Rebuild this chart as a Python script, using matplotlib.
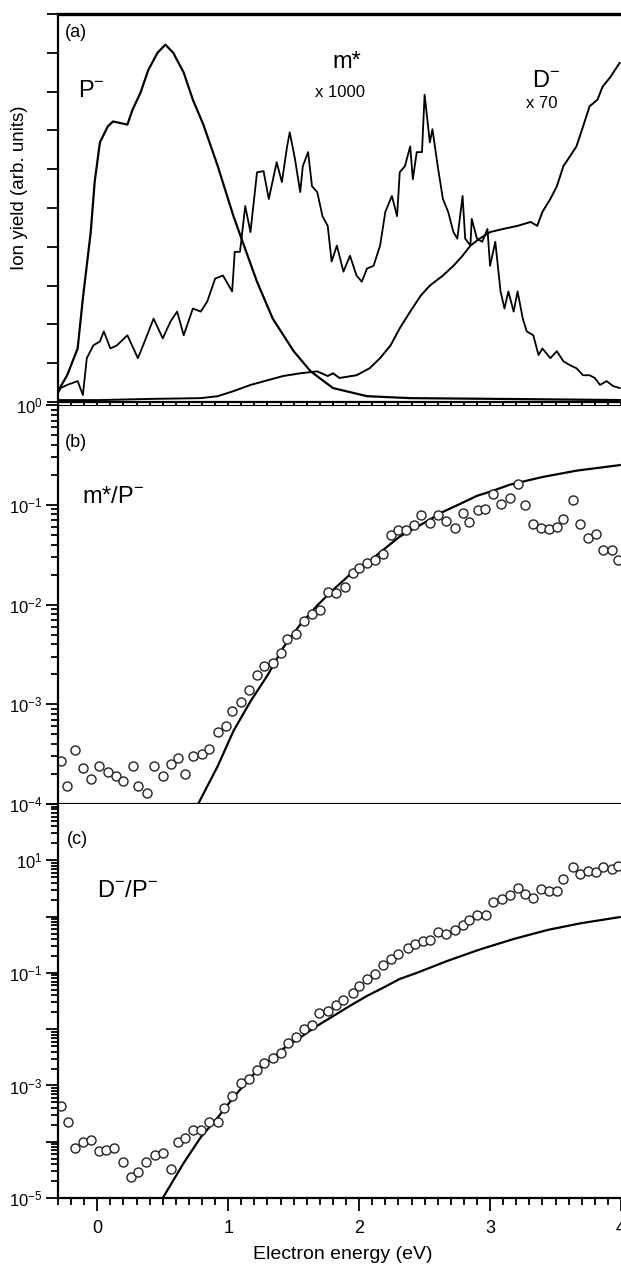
import numpy as np
import matplotlib.pyplot as plt
from matplotlib.ticker import MultipleLocator, LogLocator, NullFormatter

plt.rcParams['font.family'] = ['Liberation Sans', 'DejaVu Sans']
plt.rcParams['mathtext.fontset'] = 'custom'
plt.rcParams['mathtext.rm'] = 'Liberation Sans'
plt.rcParams['mathtext.it'] = 'Liberation Sans:italic'
plt.rcParams['mathtext.bf'] = 'Liberation Sans:bold'

# (a) ion yields, arbitrary units
e_p = [-0.30, -0.23, -0.15, -0.11, -0.05, -0.02, 0.02, 0.08, 0.12, 0.23, 0.27, 0.33,
       0.39, 0.46, 0.52, 0.58, 0.66, 0.73, 0.81, 0.92, 1.04, 1.11, 1.22, 1.34, 1.50,
       1.63, 1.80, 2.06, 2.39, 3.08, 3.99]
y_p = [0.28, 0.69, 1.38, 2.67, 4.38, 5.67, 6.69, 7.10, 7.23, 7.15, 7.54, 7.97,
       8.56, 9.00, 9.21, 9.00, 8.49, 7.79, 7.15, 6.08, 4.79, 4.13, 3.10, 2.15, 1.31,
       0.79, 0.36, 0.15, 0.10, 0.08, 0.05]

e_m = [-0.30, -0.28, -0.23, -0.15, -0.11, -0.08, -0.03, 0.02, 0.05, 0.10, 0.15, 0.23,
       0.31, 0.35, 0.43, 0.50, 0.56, 0.61, 0.66, 0.73, 0.79, 0.84, 0.90, 0.96, 1.03,
       1.05, 1.09, 1.13, 1.17, 1.22, 1.27, 1.31, 1.37, 1.41, 1.45, 1.47, 1.51, 1.55,
       1.57, 1.61, 1.64, 1.68, 1.72, 1.76, 1.79, 1.83, 1.88, 1.93, 1.98, 2.02, 2.06,
       2.11, 2.16, 2.20, 2.25, 2.29, 2.31, 2.35, 2.39, 2.41, 2.44, 2.48, 2.50, 2.54,
       2.56, 2.60, 2.64, 2.68, 2.72, 2.75, 2.79, 2.81, 2.85, 2.86, 2.90, 2.94, 2.98,
       3.00, 3.04, 3.08, 3.11, 3.14, 3.18, 3.21, 3.25, 3.28, 3.33, 3.37, 3.40, 3.46,
       3.51, 3.56, 3.61, 3.66, 3.71, 3.76, 3.80, 3.84, 3.89, 3.94, 3.99]
y_m = [0.23, 0.36, 0.44, 0.54, 0.18, 1.13, 1.46, 1.56, 1.82, 1.38, 1.46, 1.72,
       1.13, 1.46, 2.15, 1.64, 2.08, 2.33, 1.72, 2.41, 2.33, 2.59, 3.18, 3.26, 2.85,
       3.87, 3.87, 5.05, 4.38, 5.92, 5.95, 5.23, 6.18, 5.67, 6.59, 6.95, 6.26, 5.41,
       6.08, 6.44, 5.56, 5.41, 4.79, 4.54, 3.62, 4.03, 3.36, 3.77, 3.26, 3.10, 3.44,
       3.51, 4.03, 4.90, 5.31, 4.79, 5.92, 6.08, 6.59, 5.74, 6.44, 6.44, 7.92, 6.69,
       7.03, 6.08, 5.23, 4.90, 4.38, 4.21, 5.31, 4.21, 4.03, 4.72, 4.21, 4.13, 4.46,
       3.51, 4.13, 2.85, 2.41, 2.85, 2.33, 2.85, 2.15, 1.82, 1.72, 1.21, 1.38, 1.13,
       1.31, 1.05, 0.95, 0.87, 0.69, 0.69, 0.62, 0.44, 0.54, 0.41, 0.36]

e_d = [-0.30, 0.02, 0.40, 0.79, 0.92, 1.04, 1.17, 1.30, 1.42, 1.55, 1.68, 1.76, 1.80,
       1.85, 1.98, 2.08, 2.16, 2.24, 2.31, 2.39, 2.47, 2.54, 2.64, 2.72, 2.79, 2.85,
       2.92, 3.00, 3.10, 3.21, 3.31, 3.36, 3.40, 3.46, 3.51, 3.56, 3.61, 3.66, 3.71,
       3.76, 3.82, 3.86, 3.92, 3.97, 3.99]
y_d = [0.05, 0.05, 0.08, 0.10, 0.15, 0.28, 0.44, 0.56, 0.67, 0.74, 0.79, 0.67, 0.74,
       0.62, 0.69, 0.87, 1.13, 1.46, 1.90, 2.33, 2.74, 3.00, 3.26, 3.51, 3.77, 4.03,
       4.21, 4.38, 4.46, 4.54, 4.64, 4.54, 4.90, 5.23, 5.56, 6.08, 6.33, 6.59, 7.10,
       7.62, 7.79, 8.13, 8.38, 8.64, 8.74]

# (b) m*/P- ratio
e_b = [-0.28, -0.23, -0.17, -0.11, -0.05, 0.01, 0.08, 0.14, 0.20, 0.27, 0.31, 0.38,
       0.43, 0.50, 0.56, 0.62, 0.67, 0.73, 0.80, 0.85, 0.92, 0.98, 1.03, 1.10, 1.16,
       1.22, 1.27, 1.34, 1.40, 1.45, 1.52, 1.58, 1.64, 1.70, 1.76, 1.82, 1.89, 1.95,
       2.00, 2.06, 2.12, 2.18, 2.24, 2.30, 2.36, 2.42, 2.47, 2.54, 2.60, 2.66, 2.73,
       2.79, 2.84, 2.91, 2.96, 3.02, 3.08, 3.15, 3.21, 3.27, 3.33, 3.39, 3.45, 3.51,
       3.56, 3.63, 3.69, 3.75, 3.81, 3.86, 3.93, 3.98]
r_b = [2.7e-4, 1.5e-4, 3.5e-4, 2.3e-4, 1.8e-4, 2.4e-4, 2.1e-4, 1.9e-4, 1.7e-4, 2.4e-4,
       1.5e-4, 1.3e-4, 2.4e-4, 1.9e-4, 2.5e-4, 2.9e-4, 2.0e-4, 3.0e-4, 3.2e-4, 3.6e-4,
       5.3e-4, 6.0e-4, 8.5e-4, 1.05e-3, 1.4e-3, 1.95e-3, 2.4e-3, 2.6e-3, 3.3e-3, 4.5e-3,
       5.1e-3, 6.8e-3, 8.1e-3, 8.9e-3, 1.35e-2, 1.3e-2, 1.5e-2, 2.05e-2, 2.3e-2, 2.6e-2,
       2.8e-2, 3.2e-2, 5.0e-2, 5.6e-2, 5.6e-2, 6.3e-2, 7.9e-2, 6.6e-2, 7.9e-2, 6.9e-2,
       5.9e-2, 8.3e-2, 6.7e-2, 8.9e-2, 9.1e-2, 0.129, 0.102, 0.117, 0.163, 0.100,
       0.064, 0.059, 0.057, 0.060, 0.072, 0.112, 0.064, 0.047, 0.051, 0.035, 0.035, 0.028]
fit_e_b = [0.77, 0.92, 1.04, 1.17, 1.30, 1.42, 1.55, 1.68, 1.80, 1.93, 2.06, 2.18, 2.31,
           2.47, 2.64, 2.77, 2.90, 3.02, 3.15, 3.40, 3.66, 3.99]
fit_r_b = [1.0e-4, 2.4e-4, 5.4e-4, 1.07e-3, 1.95e-3, 3.7e-3, 6.3e-3, 9.8e-3, 1.4e-2,
           2.0e-2, 2.6e-2, 3.5e-2, 4.8e-2, 6.3e-2, 8.5e-2, 0.102, 0.123, 0.138, 0.159,
           0.19, 0.22, 0.25]

# (c) D-/P- ratio
e_c = [-0.28, -0.22, -0.17, -0.11, -0.05, 0.01, 0.07, 0.13, 0.20, 0.26, 0.31, 0.37,
       0.44, 0.50, 0.56, 0.62, 0.67, 0.73, 0.79, 0.85, 0.92, 0.97, 1.03, 1.10, 1.16,
       1.22, 1.27, 1.34, 1.40, 1.46, 1.52, 1.58, 1.64, 1.69, 1.76, 1.82, 1.88, 1.95,
       2.00, 2.06, 2.12, 2.18, 2.24, 2.30, 2.37, 2.43, 2.49, 2.54, 2.60, 2.66, 2.73,
       2.79, 2.84, 2.90, 2.97, 3.02, 3.09, 3.15, 3.21, 3.27, 3.33, 3.39, 3.45, 3.51,
       3.56, 3.63, 3.69, 3.75, 3.81, 3.86, 3.93, 3.98]
r_c = [4.3e-4, 2.2e-4, 7.6e-5, 9.8e-5, 1.07e-4, 6.8e-5, 7.1e-5, 7.6e-5, 4.3e-5, 2.4e-5,
       2.9e-5, 4.3e-5, 5.8e-5, 6.3e-5, 3.3e-5, 9.8e-5, 1.15e-4, 1.6e-4, 1.6e-4, 2.2e-4,
       2.2e-4, 3.9e-4, 6.4e-4, 1.1e-3, 1.3e-3, 1.9e-3, 2.5e-3, 3.1e-3, 3.8e-3, 5.7e-3,
       7.4e-3, 1.02e-2, 1.2e-2, 1.9e-2, 2.1e-2, 2.7e-2, 3.3e-2, 4.4e-2, 5.9e-2, 7.8e-2,
       9.5e-2, 0.138, 0.178, 0.218, 0.277, 0.325, 0.37, 0.38, 0.53, 0.49, 0.58,
       0.71, 0.87, 1.07, 1.07, 1.8, 2.05, 2.4, 3.2, 2.5, 2.1, 3.1, 2.8, 2.8,
       4.6, 7.5, 5.6, 6.4, 6.2, 7.5, 6.9, 7.8]
fit_e_c = [0.50, 0.66, 0.79, 0.92, 1.04, 1.17, 1.30, 1.42, 1.55, 1.68, 1.80, 1.93, 2.06,
           2.18, 2.31, 2.44, 2.67, 2.92, 3.18, 3.44, 3.69, 3.99]
fit_r_c = [1.0e-5, 4.2e-5, 1.2e-4, 2.7e-4, 6.1e-4, 1.4e-3, 2.6e-3, 4.5e-3, 7.1e-3,
           1.15e-2, 1.7e-2, 2.6e-2, 3.9e-2, 5.4e-2, 7.8e-2, 0.100, 0.162, 0.26, 0.40,
           0.58, 0.76, 0.98]

b_ticks = [1e-4, 1e-3, 1e-2, 1e-1, 1e0]
b_labels = ['$10^{-4}$', '$10^{-3}$', '$10^{-2}$', '$10^{-1}$', '$10^{0}$']
c_ticks = [1e-5, 1e-4, 1e-3, 1e-2, 1e-1, 1e0, 1e1, 1e2]
c_labels = ['$10^{-5}$', '', '$10^{-3}$', '', '$10^{-1}$', '', '$10^{1}$', '']
x_ticks = [0, 1, 2, 3, 4]

fig = plt.figure(figsize=(6.21, 12.71), dpi=100)
ax_a = fig.add_axes([0.0934, 0.6837, 0.9066, 0.3053])
ax_b = fig.add_axes([0.0934, 0.3674, 0.9066, 0.3139])
ax_c = fig.add_axes([0.0934, 0.0574, 0.9066, 0.3100])

# (a)
ax_a.plot(e_p, y_p, color='black', lw=1.6)
ax_a.plot(e_m, y_m, color='black', lw=1.3)
ax_a.plot(e_d, y_d, color='black', lw=1.4)
ax_a.set_ylim(0, 10)
ax_a.set_yticks(range(11), labels=[''] * 11)
ax_a.spines['top'].set_linewidth(2.4)
ax_a.text(0.012, 0.951, '(a)', transform=ax_a.transAxes, fontsize=13, va='center')
ax_a.text(0.036, 0.786, 'P$^{-}$', transform=ax_a.transAxes, fontsize=17)
ax_a.text(0.513, 0.861, 'm*', transform=ax_a.transAxes, fontsize=17, ha='center')
ax_a.text(0.501, 0.786, 'x 1000', transform=ax_a.transAxes, fontsize=12, ha='center')
ax_a.text(0.842, 0.812, 'D$^{-}$', transform=ax_a.transAxes, fontsize=17)
ax_a.text(0.860, 0.758, 'x 70', transform=ax_a.transAxes, fontsize=12, ha='center')

# (b)
ax_b.plot(fit_e_b, fit_r_b, color='black', lw=1.6)
ax_b.plot(e_b, r_b, 'o', ms=6.5, mfc='white', mec='#222222', mew=1.0)
ax_b.set_yscale('log')
ax_b.set_ylim(1e-4, 1e0)
ax_b.set_yticks(b_ticks, labels=b_labels)
ax_b.text(0.012, 0.907, '(b)', transform=ax_b.transAxes, fontsize=13, va='center')
ax_b.text(0.043, 0.754, 'm*/P$^{-}$', transform=ax_b.transAxes, fontsize=17)

# (c)
ax_c.plot(fit_e_c, fit_r_c, color='black', lw=1.6)
ax_c.plot(e_c, r_c, 'o', ms=6.5, mfc='white', mec='#222222', mew=1.0)
ax_c.set_yscale('log')
ax_c.set_ylim(1e-5, 1e2)
ax_c.set_yticks(c_ticks, labels=c_labels)
ax_c.spines['top'].set_visible(False)
ax_c.text(0.016, 0.911, '(c)', transform=ax_c.transAxes, fontsize=13, va='center')
ax_c.text(0.069, 0.764, 'D$^{-}$/P$^{-}$', transform=ax_c.transAxes, fontsize=17)

for ax in (ax_b, ax_c):
    ax.yaxis.set_minor_locator(LogLocator(base=10, subs=np.arange(2, 10), numticks=20))
    ax.yaxis.set_minor_formatter(NullFormatter())

for ax in (ax_a, ax_b, ax_c):
    ax.set_xlim(-0.3, 4.0)
    ax.set_xticks(x_ticks)
    ax.xaxis.set_minor_locator(MultipleLocator(0.1))
    ax.spines['right'].set_visible(False)
    ax.spines['left'].set_linewidth(1.6)
    ax.spines['bottom'].set_linewidth(1.6)
    ax.tick_params(which='both', direction='out', top=False, right=False, width=1.3)
    ax.tick_params(which='major', length=9)
    ax.tick_params(which='minor', length=5)
    ax.tick_params(axis='y', labelsize=12, pad=2)
    ax.tick_params(axis='x', labelsize=13, pad=7)

ax_a.tick_params(axis='y', which='major', length=8)
ax_a.tick_params(labelbottom=False)
ax_b.tick_params(labelbottom=False)

fig.text(0.032, 0.852, 'Ion yield (arb. units)', rotation=90, ha='center', va='center', fontsize=13.5)
fig.text(0.552, 0.0126, 'Electron energy (eV)', ha='center', va='center', fontsize=14)

fig.savefig('out.png', dpi=100)
